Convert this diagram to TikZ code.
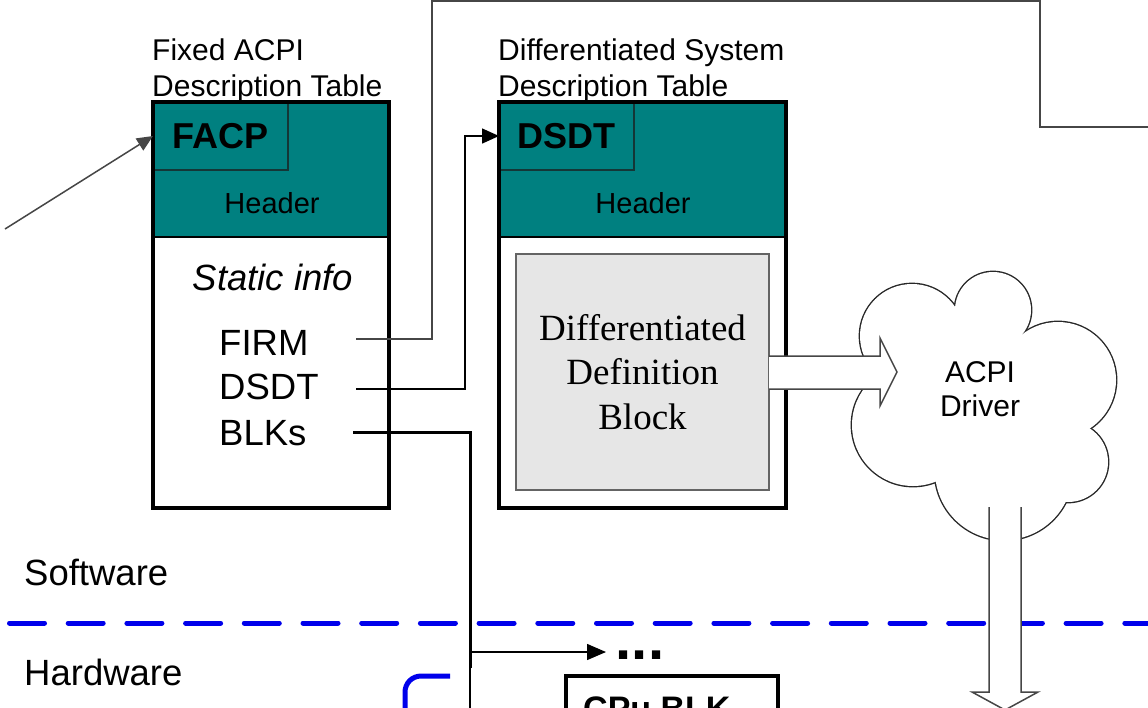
\documentclass[tikz,border=0pt]{standalone}
\usepackage{fontspec}
\setmainfont{Liberation Sans}
\newfontfamily\serifA{Liberation Serif}
\usetikzlibrary{arrows.meta}
\definecolor{tealhdr}{RGB}{0,128,128}
\definecolor{tagline}{RGB}{20,55,55}
\definecolor{ddbfill}{RGB}{230,230,230}
\definecolor{ddbline}{RGB}{100,100,100}
\definecolor{wiregray}{RGB}{70,70,70}
\definecolor{cloudline}{RGB}{40,40,40}
\definecolor{divblue}{RGB}{0,0,235}
\begin{document}
\begin{tikzpicture}[x=1pt,y=-1pt,
  hdr/.style={fill=tealhdr, draw=black, line width=2.5pt, minimum height=135pt, inner sep=0pt, outer sep=0pt},
  tagbox/.style={draw=tagline, line width=1.2pt, minimum width=135pt, minimum height=68pt, inner sep=0pt, outer sep=0pt, font=\fontsize{36}{40}\selectfont\bfseries},
  tbl/.style={draw=black, line width=4pt, minimum height=406pt, inner sep=0pt, outer sep=0pt},
  ttl/.style={inner sep=0pt, anchor=base west, font=\fontsize{30}{36}\selectfont},
  hdrtxt/.style={inner sep=0pt, font=\fontsize{29}{34}\selectfont},
  bigtxt/.style={inner sep=0pt, font=\fontsize{36.5}{44}\selectfont},
  wire/.style={draw=wiregray, line width=1.5pt},
  tipA/.style={-{Triangle[length=16pt,width=14pt]}},
  blockarrow/.style={draw=wiregray, line width=1.5pt, line join=miter},
]
\useasboundingbox (0,0) rectangle (1148,707);
\clip (0,0) rectangle (1148,707);
\fill[white] (0,0) rectangle (1148,707);

% ---- dashed divider
\draw[divblue, line width=5pt, line cap=round, dash pattern=on 35pt off 23.7pt] (9.5,623) -- (1170,623);

% ---- FACP table
\node[hdr, minimum width=236pt] (facphdr) at (271,169.5) {};
\node[tagbox] (facptag) at (220.5,136) {FACP};
\node[hdrtxt] (facph) at (272,203) {Header};
\node[tbl, minimum width=236pt] (facp) at (271,305) {};
\node[ttl] (facpt1) at (152,60) {Fixed ACPI};
\node[ttl] (facpt2) at (152,96) {Description Table};
\node[bigtxt, font=\fontsize{36.5}{44}\selectfont\itshape] (static) at (273,277) {Static info};
\node[bigtxt, anchor=west] (firm) at (219,343) {FIRM};
\node[bigtxt, anchor=west] (dsdtf) at (219,387) {DSDT};
\node[bigtxt, anchor=west] (blks) at (219,433) {BLKs};

% ---- DSDT table
\node[hdr, minimum width=287pt] (dsdthdr) at (642.5,169.5) {};
\node[tagbox] (dsdttag) at (566.5,136) {DSDT};
\node[hdrtxt] (dsdth) at (643,203) {Header};
\node[draw=ddbline, fill=ddbfill, line width=1.5pt, minimum width=253pt, minimum height=236pt, inner sep=0pt, outer sep=0pt, align=center, font=\serifA\fontsize{37}{44.5}\selectfont] (ddb) at (642.5,372) {Differentiated\\Definition\\Block};
\node[tbl, minimum width=287pt] (dsdt) at (642.5,305) {};
\node[ttl] (dsdtt1) at (498,60) {Differentiated System};
\node[ttl] (dsdtt2) at (498,96) {Description Table};

% ---- side labels
\node[bigtxt, anchor=west] (sw) at (24,572) {Software};
\node[bigtxt, anchor=west] (hw) at (24,672) {Hardware};

% ---- cloud (ACPI driver): union of puffs
\foreach \cx/\cy/\r in {912/336/52, 993/310/38, 1058/380/58, 1068/462/40, 1004/471/69, 913/425/61}
  \draw[cloudline, line width=2.8pt] (\cx,\cy) circle[radius=\r];
\foreach \cx/\cy/\r in {912/336/52, 993/310/38, 1058/380/58, 1068/462/40, 1004/471/69, 913/425/61}
  \fill[white] (\cx,\cy) circle[radius=\r];
\fill[white] (912,336) -- (993,310) -- (1058,380) -- (1068,462) -- (1004,471) -- (913,425) -- cycle;
\node[inner sep=0pt, align=center, font=\fontsize{30}{34}\selectfont] (driver) at (980,389) {ACPI\\Driver};

% ---- block arrow DDB -> driver
\fill[white] (769,356) -- (880,356) -- (880,338) -- (897,372) -- (880,406) -- (880,389) -- (769,389) -- cycle;
\draw[blockarrow] (769,356) -- (880,356) -- (880,338) -- (897,372) -- (880,406) -- (880,389) -- (769,389);

% ---- down arrow from driver
\fill[white] (989,507) -- (1021,507) -- (1021,692) -- (1038,692) -- (1005,710) -- (972,692) -- (989,692) -- cycle;
\draw[blockarrow] (989,507) -- (989,692) -- (972,692) -- (1005,710) -- (1038,692) -- (1021,692) -- (1021,507);

% ---- connectors
\coordinate (inA) at (5,229);
\draw[wire, tipA] (inA) -- (facptag.west);
\coordinate (firmS) at (356,339);
\draw[wire] (firmS) -| (432,1) -| (1040,127) -- (1170,127);
\coordinate (dsdtS) at (356,389);
\draw[draw=black, line width=1.5pt, -{Triangle[length=17pt,width=15pt]}] (dsdtS) -| (465,250) |- (dsdttag.west);

% ---- hardware part
\node[inner sep=0pt, font=\fontsize{58}{60}\selectfont\bfseries] (dots) at (640,655) {...};
\coordinate (blkS) at (353,432);
\coordinate (dotsin) at (606,652);
\draw[black, line width=3pt] (blkS) -| (470,668);
\draw[black, line width=2pt] (470,666) -- (470,720);
\draw[black, line width=1.5pt, -{Triangle[length=19pt,width=16pt]}] (470,652) -- (dotsin);
\draw[divblue, line width=5pt, rounded corners=16pt] (450,676) -- (405,676) -- (405,730);
\node[draw=black, line width=4pt, minimum width=212pt, minimum height=80pt, inner sep=0pt, outer sep=0pt, anchor=north west] (cpu) at (566,676) {};
\node[inner sep=0pt, anchor=north west, font=\fontsize{34}{40}\selectfont\bfseries] (cputxt) at (583,697) {CPu BLK};
\end{tikzpicture}
\end{document}
